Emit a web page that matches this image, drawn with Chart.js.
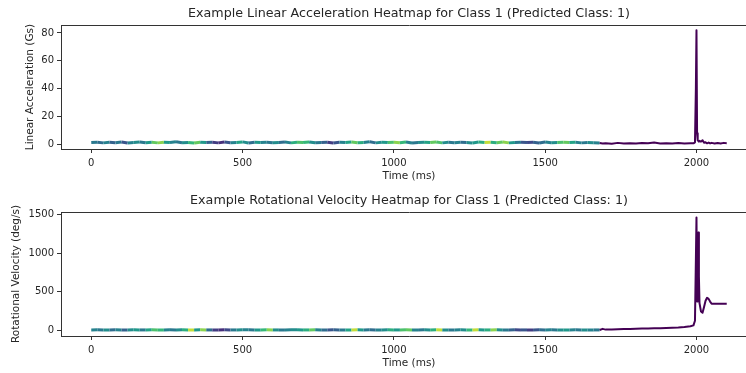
<!DOCTYPE html>
<html>
<head>
<meta charset="utf-8">
<script src="https://cdn.jsdelivr.net/npm/chart.js@4"></script>
<style>
  html, body { margin: 0; padding: 0; background: #fff; overflow: hidden; }
  .plot { position: absolute; left: 0; width: 758px; height: 187px; }
  #top { top: 0; }
  #bottom { top: 187px; }
</style>
</head>
<body>
<div class="plot" id="top"><canvas id="accelChart" width="758" height="187"></canvas></div>
<div class="plot" id="bottom"><canvas id="rotChart" width="758" height="187"></canvas></div>
<script>
// time (ms) of the heat-coloured part and of the dark tail
const heatTime = [0,20,40,60,80,100,120,140,160,180,200,220,240,260,280,300,320,340,360,380,
  400,420,440,460,480,500,520,540,560,580,600,620,640,660,680,700,720,740,760,780,
  800,820,840,860,880,900,920,940,960,980,1000,1020,1040,1060,1080,1100,1120,1140,1160,1180,
  1200,1220,1240,1260,1280,1300,1320,1340,1360,1380,1400,1420,1440,1460,1480,1500,1520,1540,1560,1580,
  1600,1620,1640,1660,1680];
const tailTime = [1680,1690,1700,1720,1740,1760,1780,1800,1820,1840,1860,1880,1900,1920,1940,1960,1980,
  1990,1995,1998,2000,2002,2004,2006,2008,2010,2015,2020,2025,2030,2035,2040,2045,2050,2060,2070,2080,2090,2100];

// linear acceleration (Gs)
const accelHeatVals = [1.3,1.6,1.1,1.5,1.2,1.7,1.0,1.4,1.8,1.2,1.5,1.1,1.6,1.3,1.9,1.2,1.4,1.0,1.6,1.3,
  1.5,1.1,1.7,1.2,1.4,1.8,1.0,1.5,1.3,1.6,1.2,1.4,1.7,1.1,1.5,1.3,1.8,1.2,1.4,1.6,
  1.0,1.5,1.3,1.7,1.2,1.4,1.9,1.1,1.6,1.3,1.5,1.2,1.7,1.0,1.4,1.6,1.3,1.8,1.1,1.5,
  1.2,1.6,1.4,1.0,1.7,1.3,1.5,1.2,1.8,1.1,1.4,1.6,1.3,1.5,1.0,1.7,1.2,1.4,1.6,1.3,
  1.5,1.1,1.4,1.2,1.0];
const accelHeatLevel = [0.45,0.4,0.5,0.35,0.45,0.3,0.5,0.55,0.45,0.6,
  0.85,0.9,0.6,0.5,0.45,0.55,0.75,0.85,0.6,0.35,
  0.2,0.15,0.3,0.5,0.65,0.55,0.4,0.6,0.5,0.45,
  0.55,0.4,0.5,0.7,0.8,0.75,0.55,0.45,0.35,0.2,
  0.3,0.5,0.65,0.85,0.7,0.5,0.4,0.55,0.6,0.8,
  0.9,0.75,0.5,0.45,0.55,0.65,0.85,0.8,0.55,0.45,
  0.5,0.4,0.55,0.6,0.7,0.95,0.7,0.85,0.9,0.6,
  0.45,0.3,0.25,0.35,0.4,0.5,0.55,0.8,0.85,0.65,
  0.5,0.45,0.55,0.5,0.45];
const accelTail = [1.0,0.6,0.9,0.5,1.1,0.7,0.9,0.6,1.0,0.8,1.3,0.7,0.9,0.6,1.0,0.7,0.9,
  0.8,1.5,40,82,8,3.0,2.5,2.0,2.6,2.0,3.0,1.2,1.5,0.8,1.3,0.7,1.1,0.6,1.0,0.7,1.1,0.9];

// rotational velocity (deg/s)
const rotHeatVals = [1,2,0,1,3,1,0,2,1,1,2,0,1,2,1,3,0,1,2,1,
  1,0,2,1,1,3,2,0,1,2,1,1,0,2,3,1,1,2,0,1,
  2,1,0,1,2,1,3,1,0,2,1,1,2,0,1,3,1,2,1,0,
  1,2,1,0,2,1,1,3,0,1,2,1,1,0,2,1,3,1,0,1,
  2,1,0,1,1];
const rotHeatLevel = [0.5,0.45,0.55,0.4,0.5,0.35,0.55,0.6,0.45,0.65,
  0.8,0.75,0.5,0.45,0.55,0.7,0.95,0.6,0.9,0.4,
  0.2,0.15,0.25,0.45,0.55,0.5,0.45,0.6,0.75,0.9,
  0.55,0.45,0.5,0.55,0.6,0.7,0.85,0.5,0.4,0.3,
  0.35,0.45,0.65,0.95,0.6,0.45,0.4,0.5,0.55,0.7,
  0.6,0.8,0.85,0.5,0.45,0.55,0.7,0.95,0.55,0.45,
  0.5,0.55,0.75,0.95,0.6,0.7,0.9,0.55,0.45,0.35,
  0.25,0.3,0.2,0.3,0.4,0.5,0.45,0.55,0.6,0.5,
  0.45,0.55,0.5,0.45,0.4];
const rotTail = [0,15,5,8,10,12,14,16,18,20,22,24,27,30,33,38,48,
  60,120,900,1465,370,900,1270,700,350,240,224,300,380,419,405,370,341,341,341,341,341,341];

const timeTicks = [0,500,1000,1500,2000];
const accelTicks = [0,20,40,60,80];
const rotTicks = [0,500,1000,1500];

const viridisStops = ['#440154','#482878','#3e4989','#31688e','#26828e','#1f9e89','#35b779','#6ece58','#fde725'];
function viridis(t) {
  t = Math.max(0, Math.min(1, t));
  const p = t * (viridisStops.length - 1);
  const i = Math.min(Math.floor(p), viridisStops.length - 2);
  const f = p - i;
  const a = viridisStops[i], b = viridisStops[i + 1];
  const c = k => Math.round(parseInt(a.substr(k, 2), 16) * (1 - f) + parseInt(b.substr(k, 2), 16) * f);
  return `rgb(${c(1)},${c(3)},${c(5)})`;
}

const TEXT = '#262626';
const SPINE = '#333';
const FONT = 'DejaVu Sans';

// top and right spines
const framePlugin = {
  id: 'frame',
  afterDraw(chart) {
    const { ctx, chartArea: a } = chart;
    ctx.save();
    ctx.strokeStyle = SPINE;
    ctx.lineWidth = 1;
    ctx.beginPath();
    ctx.moveTo(Math.round(a.left) + 0.5, Math.round(a.top) + 0.5);
    ctx.lineTo(Math.round(a.right) + 0.5, Math.round(a.top) + 0.5);
    ctx.lineTo(Math.round(a.right) + 0.5, Math.round(a.bottom) + 0.5);
    ctx.stroke();
    ctx.restore();
  }
};

function makeChart(id, o) {
  const heatPts = heatTime.map((t, i) => ({ x: t, y: o.heatVals[i] }));
  const tailPts = tailTime.map((t, i) => ({ x: t, y: o.tail[i] }));
  new Chart(document.getElementById(id), {
    type: 'line',
    data: {
      datasets: [
        {
          data: tailPts,
          borderColor: '#440154',
          borderWidth: 2,
          pointRadius: 0,
          borderJoinStyle: 'round',
          tension: 0
        },
        {
          data: heatPts,
          borderWidth: 3,
          pointRadius: 0,
          tension: 0,
          segment: { borderColor: c => viridis(o.heatLevel[c.p0DataIndex]) }
        }
      ]
    },
    options: {
      responsive: false,
      animation: false,
      devicePixelRatio: 1,
      layout: { padding: { left: 0, right: 1, top: 0, bottom: 0 } },
      plugins: {
        legend: { display: false },
        tooltip: { enabled: false },
        title: {
          display: true,
          text: o.title,
          fullSize: false,
          color: TEXT,
          font: { family: FONT, size: 12.7, weight: 'normal' },
          padding: { top: 6.5, bottom: 3.3 }
        }
      },
      scales: {
        x: {
          type: 'linear',
          min: -100,
          max: 2200,
          afterBuildTicks: s => { s.ticks = timeTicks.map(v => ({ value: v })); },
          afterFit: s => { s.height = 38; },
          grid: { drawOnChartArea: false, drawTicks: true, tickLength: 4, tickColor: SPINE },
          border: { display: true, color: SPINE, width: 1 },
          ticks: { color: TEXT, padding: 4, font: { family: FONT, size: 10 }, callback: v => String(v) },
          title: { display: true, text: 'Time (ms)', color: TEXT, font: { family: FONT, size: 10.5 }, padding: { top: 0, bottom: 4.5 } }
        },
        y: {
          min: o.min,
          max: o.max,
          afterBuildTicks: s => { s.ticks = o.ticks.map(v => ({ value: v })); },
          afterFit: s => { s.width = 61; },
          grid: { drawOnChartArea: false, drawTicks: true, tickLength: 4, tickColor: SPINE },
          border: { display: true, color: SPINE, width: 1 },
          ticks: { color: TEXT, padding: 3, font: { family: FONT, size: 10 }, callback: v => String(v) },
          title: { display: true, text: o.yLabel, color: TEXT, font: { family: FONT, size: 10.5 }, padding: { top: o.yTitlePad, bottom: 0 } }
        }
      }
    },
    plugins: [framePlugin]
  });
}

makeChart('accelChart', {
  title: 'Example Linear Acceleration Heatmap for Class 1 (Predicted Class: 1)',
  yLabel: 'Linear Acceleration (Gs)',
  heatVals: accelHeatVals, heatLevel: accelHeatLevel, tail: accelTail,
  ticks: accelTicks, min: -3.3, max: 85.7, yTitlePad: 23.5
});
makeChart('rotChart', {
  title: 'Example Rotational Velocity Heatmap for Class 1 (Predicted Class: 1)',
  yLabel: 'Rotational Velocity (deg/s)',
  heatVals: rotHeatVals, heatLevel: rotHeatLevel, tail: rotTail,
  ticks: rotTicks, min: -78, max: 1535, yTitlePad: 10
});
</script>
</body>
</html>
